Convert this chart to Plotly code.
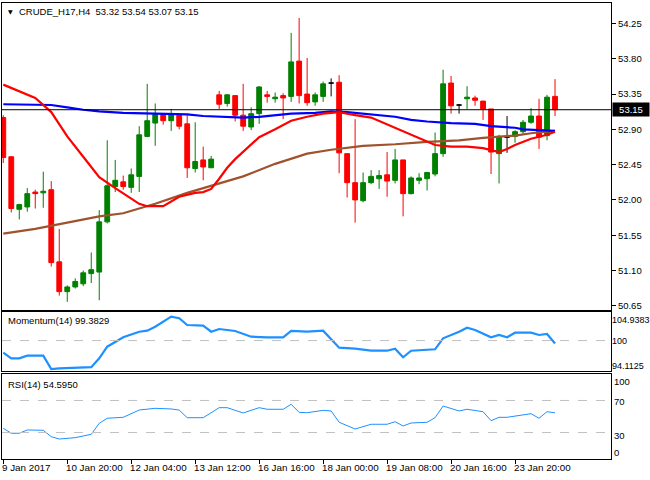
import plotly.graph_objects as go
from plotly.subplots import make_subplots

# ---------------- data ----------------
opens = [53.05, 52.55, 51.88, 51.91, 52.10, 52.09, 52.13, 51.21, 50.83, 50.89,
         50.93, 51.06, 51.08, 51.72, 52.17, 52.23, 52.16, 52.30, 52.81, 52.98,
         53.09, 53.01, 53.08, 52.97, 52.40, 52.51, 52.41, 53.34, 53.23, 53.33,
         53.08, 52.93, 53.10, 53.34, 53.29, 53.33, 53.32, 53.77, 53.35, 53.25,
         53.32, 53.49, 53.50, 52.59, 52.22, 51.99, 52.22, 52.27, 52.32, 52.25,
         52.51, 52.08, 52.25, 52.27, 52.33, 52.59, 53.49, 53.21, 53.29, 53.30,
         53.26, 53.16, 52.59, 52.80, 52.81, 52.87, 52.99, 53.07, 52.82, 53.32]
highs = [53.08, 52.56, 51.95, 52.15, 52.13, 52.36, 52.24, 51.63, 50.91, 51.00,
         51.10, 51.33, 51.87, 52.76, 52.51, 52.31, 52.40, 52.94, 53.48, 53.23,
         53.09, 53.16, 53.08, 53.09, 52.99, 52.68, 52.56, 53.39, 53.35, 53.33,
         53.48, 53.18, 53.45, 53.39, 53.37, 53.36, 54.13, 54.32, 53.81, 53.37,
         53.51, 53.55, 53.59, 52.59, 53.03, 52.35, 52.38, 52.38, 52.61, 52.65,
         52.51, 52.30, 52.34, 52.35, 52.86, 53.66, 53.58, 53.22, 53.45, 53.33,
         53.26, 53.16, 52.83, 53.07, 52.89, 53.02, 53.17, 53.29, 53.34, 53.54]
lows = [52.47, 51.84, 51.75, 51.85, 51.89, 51.90, 51.15, 50.78, 50.70, 50.87,
        50.90, 50.94, 50.72, 51.70, 52.10, 52.13, 52.09, 52.10, 52.80, 52.69,
        52.96, 52.88, 52.90, 52.28, 52.35, 52.25, 52.41, 53.16, 53.19, 53.00,
        52.88, 52.89, 52.97, 53.24, 53.24, 53.03, 53.25, 53.23, 53.20, 53.20,
        53.25, 53.32, 52.34, 52.03, 51.71, 51.97, 52.20, 52.14, 52.04, 52.21,
        51.79, 52.07, 52.20, 52.12, 52.30, 52.55, 53.10, 53.10, 53.16, 53.20,
        53.02, 52.33, 52.21, 52.60, 52.73, 52.83, 52.97, 52.65, 52.76, 53.07]
closes = [52.54, 51.89, 51.94, 52.08, 52.08, 52.11, 51.20, 50.83, 50.89, 50.96,
          51.07, 51.11, 51.72, 52.18, 52.25, 52.17, 52.32, 52.83, 53.01, 53.09,
          53.01, 53.09, 52.94, 52.41, 52.49, 52.42, 52.52, 53.22, 53.34, 53.08,
          52.94, 53.10, 53.44, 53.32, 53.31, 53.30, 53.76, 53.33, 53.24, 53.34,
          53.48, 53.49, 52.60, 52.22, 52.00, 52.22, 52.30, 52.31, 52.24, 52.51,
          52.08, 52.28, 52.28, 52.35, 52.59, 53.48, 53.20, 53.21, 53.31, 53.27,
          53.16, 52.61, 52.81, 52.80, 52.87, 52.99, 53.07, 52.80, 53.31, 53.15]

# moving averages (at bar indices)
ma_red_idx = [0, 2, 4, 6, 8, 10, 12, 14, 16, 17, 18, 20, 22, 24, 25, 26, 27, 28, 29, 30,
              32, 34, 36, 38, 40, 42, 44, 46, 48, 50, 52, 54, 56, 58, 60, 62, 63, 64, 66, 68, 69]
ma_red_val = [53.47, 53.39, 53.30, 53.12, 52.81, 52.55, 52.29, 52.15, 52.01, 51.95, 51.92,
              51.92, 52.04, 52.09, 52.10, 52.14, 52.27, 52.41, 52.52, 52.61, 52.80, 52.90,
              53.01, 53.06, 53.10, 53.12, 53.08, 53.05, 52.96, 52.87, 52.79, 52.70, 52.68,
              52.68, 52.66, 52.61, 52.65, 52.70, 52.78, 52.83, 52.87]
ma_brown_idx = [0, 4, 8, 12, 15, 19, 23, 26, 30, 34, 38, 41, 45, 49, 53, 57, 60, 64, 66, 69]
ma_brown_val = [51.57, 51.63, 51.71, 51.79, 51.83, 51.95, 52.09, 52.18, 52.30, 52.46, 52.59,
                52.64, 52.69, 52.71, 52.74, 52.76, 52.79, 52.82, 52.85, 52.88]
ma_blue_idx = [0, 6, 8, 10, 12, 15, 19, 23, 25, 30, 32, 36, 39, 41, 43, 45, 47, 49, 51, 53,
               56, 59, 61, 64, 65, 67, 69]
ma_blue_val = [53.22, 53.21, 53.18, 53.15, 53.13, 53.11, 53.10, 53.09, 53.07, 53.05, 53.06,
               53.10, 53.11, 53.13, 53.12, 53.10, 53.08, 53.06, 53.02, 53.00, 52.98, 52.97,
               52.94, 52.92, 52.90, 52.89, 52.88]

mom_idx = [0, 1, 2, 3, 5, 6, 7, 9, 11, 12, 13, 15, 17, 18, 19, 21, 22, 23, 25, 26, 27, 29,
           31, 33, 35, 36, 38, 40, 42, 44, 46, 48, 49, 50, 51, 54, 55, 57, 58, 59, 61, 62,
           63, 64, 66, 67, 68, 69]
mom_val = [97.49, 96.33, 96.33, 96.87, 96.87, 94.11, 94.26, 94.38, 94.50, 96.33, 98.73,
           100.67, 101.83, 102.04, 102.87, 104.94, 104.61, 103.22, 103.08, 101.83, 102.39,
           101.98, 100.80, 100.67, 100.67, 101.98, 101.83, 102.04, 98.52, 98.32, 97.90,
           97.90, 98.32, 96.53, 97.90, 98.19, 100.47, 101.83, 102.66, 102.18, 100.67,
           101.15, 100.67, 101.63, 101.63, 101.15, 101.36, 99.3829]

rsi_idx = [0, 1, 2, 3, 5, 6, 7, 9, 10, 11, 12, 13, 15, 17, 19, 21, 22, 23, 25, 27, 28, 30,
           32, 33, 35, 36, 37, 38, 40, 41, 42, 44, 46, 48, 49, 50, 51, 53, 54, 55, 57, 58,
           60, 61, 62, 63, 66, 67, 68, 69]
rsi_val = [35.3, 29.1, 29.1, 33.2, 32.8, 24.8, 21.9, 23.6, 25.7, 27.8, 41.5, 47.8, 49.0,
           58.1, 60.2, 59.4, 58.0, 48.5, 48.5, 61.0, 61.0, 54.4, 61.0, 59.0, 59.0, 65.2,
           55.2, 54.7, 57.7, 56.9, 42.8, 34.4, 40.3, 40.3, 43.5, 38.2, 41.9, 42.8, 48.5,
           63.1, 56.9, 59.0, 56.0, 44.8, 49.0, 49.0, 53.5, 47.8, 56.0, 54.595]

price_ticks = [50.65, 51.10, 51.55, 52.00, 52.45, 52.90, 53.35, 53.80, 54.25]
mom_labels = ["104.9383", "100", "94.1125"]
rsi_labels = ["100", "70", "30", "0"]
time_idx = [0, 8, 16, 24, 32, 40, 48, 56, 64]
time_labels = ["9 Jan 2017", "10 Jan 20:00", "12 Jan 04:00", "13 Jan 12:00",
               "16 Jan 16:00", "18 Jan 00:00", "19 Jan 08:00", "20 Jan 16:00",
               "23 Jan 20:00"]
symbol = "CRUDE_H17,H4"
mom_name = "Momentum(14)"
rsi_name = "RSI(14)"

# ---------------- figure ----------------
FONT = "Liberation Sans, Arial, sans-serif"
GREEN = "#008000"
RED = "#FF0000"
LINEBLUE = "#1E90FF"

idx = list(range(len(opens)))
fig = make_subplots(rows=3, cols=1, shared_xaxes=True, vertical_spacing=0.0)

def sel(arr, ids):
    return [arr[i] for i in ids]

up = [i for i in idx if closes[i] > opens[i]]
dn = [i for i in idx if closes[i] < opens[i]]
dj = [i for i in idx if closes[i] == opens[i]]

for ids, col in ((up, GREEN), (dn, RED), (dj, "#000000")):
    fig.add_trace(go.Candlestick(
        x=ids, open=sel(opens, ids), high=sel(highs, ids), low=sel(lows, ids),
        close=sel(closes, ids),
        increasing=dict(line=dict(color=col, width=1), fillcolor=col),
        decreasing=dict(line=dict(color=col, width=1), fillcolor=col),
        whiskerwidth=0, hoverinfo="skip", showlegend=False), row=1, col=1)

fig.add_trace(go.Scatter(x=ma_brown_idx, y=ma_brown_val, mode="lines",
                         line=dict(color="#A0522D", width=2.2), hoverinfo="skip",
                         showlegend=False), row=1, col=1)
fig.add_trace(go.Scatter(x=ma_blue_idx, y=ma_blue_val, mode="lines",
                         line=dict(color="#0000FF", width=2.2), hoverinfo="skip",
                         showlegend=False), row=1, col=1)
fig.add_trace(go.Scatter(x=ma_red_idx, y=ma_red_val, mode="lines",
                         line=dict(color="#FF0000", width=2.2), hoverinfo="skip",
                         showlegend=False), row=1, col=1)

fig.add_hline(y=closes[-1], line=dict(color="black", width=1), row=1, col=1)

fig.add_trace(go.Scatter(x=mom_idx, y=mom_val, mode="lines",
                         line=dict(color=LINEBLUE, width=2.2), hoverinfo="skip",
                         showlegend=False), row=2, col=1)
fig.add_hline(y=100, line=dict(color="#C0C0C0", width=1, dash="dash"), row=2, col=1)

fig.add_trace(go.Scatter(x=rsi_idx, y=rsi_val, mode="lines",
                         line=dict(color=LINEBLUE, width=1), hoverinfo="skip",
                         showlegend=False), row=3, col=1)
for lvl in (70, 30):
    fig.add_hline(y=lvl, line=dict(color="#C0C0C0", width=1, dash="dash"), row=3, col=1)

# ---------------- layout ----------------
H_PLOT = 456.0
def py(px):  # pixel row -> paper y
    return (459 - px) / H_PLOT
def dom(top_px, bot_px):
    return [py(bot_px), py(top_px)]

xrange = [-0.16, 76.0]
axis_common = dict(showline=True, linecolor="black", linewidth=1, mirror=True,
                   showgrid=False, zeroline=False)

fig.update_layout(
    width=650, height=480,
    margin=dict(l=2, r=39, t=3, b=21),
    paper_bgcolor="white", plot_bgcolor="white",
    boxgap=0.4, boxgroupgap=0,
    font=dict(family=FONT, size=10, color="black"),
    showlegend=False,
    hovermode=False,
)
fig.update_layout(
    xaxis=dict(domain=[0, 1], range=xrange, showticklabels=False, ticks="",
               rangeslider=dict(visible=False), **axis_common),
    xaxis2=dict(domain=[0, 1], range=xrange, showticklabels=False, ticks="",
                rangeslider=dict(visible=False), **axis_common),
    xaxis3=dict(domain=[0, 1], range=xrange, showticklabels=False, ticks="outside",
                ticklen=4, tickcolor="black", tickvals=time_idx,
                rangeslider=dict(visible=False), **axis_common),
    yaxis=dict(domain=dom(3, 310), range=[50.596, 54.511], side="right",
               tickvals=price_ticks, ticktext=[f"{v:.2f}" for v in price_ticks],
               ticks="outside", ticklen=4, tickcolor="black",
               tickfont=dict(family=FONT, size=9.5, color="black"), **axis_common),
    yaxis2=dict(domain=dom(312, 371), range=[93.70, 105.91], side="right",
                showticklabels=False, ticks="", **axis_common),
    yaxis3=dict(domain=dom(374, 459), range=[-3, 103], side="right",
                showticklabels=False, ticks="", **axis_common),
)

# indicator scale labels (MT4 keeps the extreme labels inside the window)
for lab, row in zip(mom_labels, (320, 341, 366)):
    fig.add_annotation(x=1, xref="paper", y=py(row), yref="paper", text=lab,
                       xanchor="left", yanchor="middle", showarrow=False, xshift=-1,
                       font=dict(family=FONT, size=9, color="black"))
for lab, row in zip(rsi_labels, (381, 401, 435, 452)):
    fig.add_annotation(x=1, xref="paper", y=py(row), yref="paper", text=lab,
                       xanchor="left", yanchor="middle", showarrow=False, xshift=1,
                       font=dict(family=FONT, size=9.5, color="black"))

# time labels (left aligned at their bars, as in MT4)
for i, lab in zip(time_idx, time_labels):
    fig.add_annotation(x=i, xref="x3", y=py(467), yref="paper", text=lab,
                       xanchor="left", yanchor="middle", showarrow=False, xshift=-3,
                       font=dict(family=FONT, size=9.8, color="black"))

NB = "\u00a0"
title = symbol + NB + NB + " ".join(f"{v:.2f}" for v in
                                    (opens[-1], highs[-1], lows[-1], closes[-1]))
fig.add_annotation(x=15 / 609, xref="paper", y=py(11), yref="paper",
                   text=title, xanchor="left", yanchor="middle", showarrow=False,
                   font=dict(family=FONT, size=9.5, color="black"))
fig.add_annotation(x=4 / 609, xref="paper", y=py(11), yref="paper",
                   text="\u25bc", xanchor="left", yanchor="middle", showarrow=False,
                   font=dict(family="DejaVu Sans", size=6, color="black"))
fig.add_annotation(x=4 / 609, xref="paper", y=py(320), yref="paper",
                   text=f"{mom_name} {mom_val[-1]:.4f}", xanchor="left", yanchor="middle",
                   showarrow=False, font=dict(family=FONT, size=9.5, color="black"))
fig.add_annotation(x=4 / 609, xref="paper", y=py(384), yref="paper",
                   text=f"{rsi_name} {rsi_val[-1]:.4f}", xanchor="left", yanchor="middle",
                   showarrow=False, font=dict(family=FONT, size=9.5, color="black"))

# current price box
fig.add_annotation(x=1, xref="paper", y=closes[-1], yref="y", text=f"{closes[-1]:.2f}",
                   xanchor="left", yanchor="middle", showarrow=False, xshift=1,
                   bgcolor="black", borderpad=1, width=34, align="center",
                   font=dict(family=FONT, size=9.5, color="white"))

fig.write_html("out.html", config={"displayModeBar": False},
               post_script="document.body.style.margin='0';"
                           "document.body.style.padding='0';"
                           "document.body.style.overflow='hidden';")
